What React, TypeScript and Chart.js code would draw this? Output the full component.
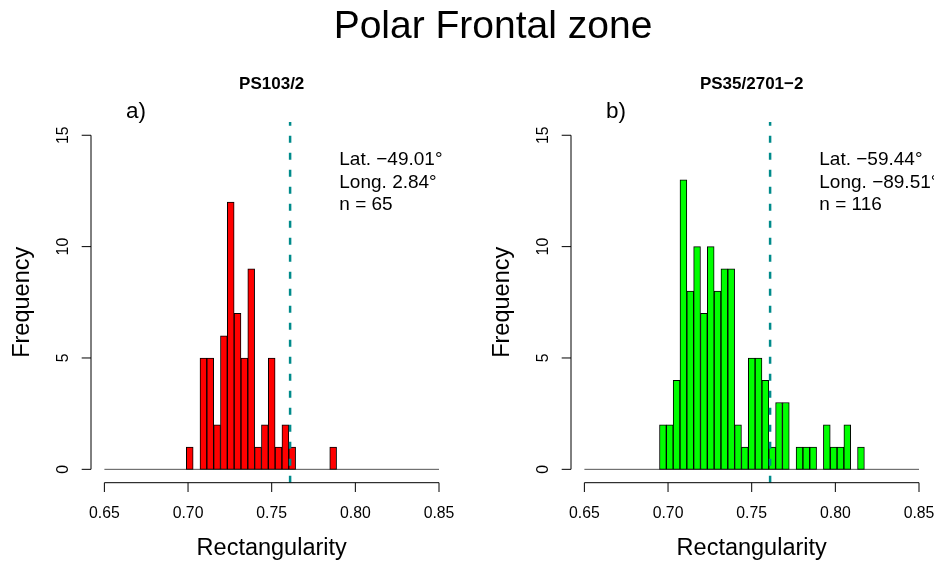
import React, { useEffect, useRef } from "react";
import { Chart, registerables } from "chart.js";

Chart.register(...registerables);

// ---- data ----
const BIN_START = 0.65;
const BIN_END = 0.85;
const BIN_COUNT = 49;
const X_TICKS = [0.65, 0.7, 0.75, 0.8, 0.85];
const X_TICK_LABELS = ["0.65", "0.70", "0.75", "0.80", "0.85"];
const Y_TICKS = [0, 5, 10, 15];
const Y_TICK_LABELS = ["0", "5", "10", "15"];
const REF_LINE = 0.761;

const COUNTS_A = [
  0, 0, 0, 0, 0, 0, 0, 0, 0, 0, 0, 0,
  1, 0, 5, 5, 2, 6, 12, 7, 5, 9, 1, 2, 5, 1, 2, 1,
  0, 0, 0, 0, 0, 1,
  0, 0, 0, 0, 0, 0, 0, 0, 0, 0, 0, 0, 0, 0, 0,
];
const COUNTS_B = [
  0, 0, 0, 0, 0, 0, 0, 0, 0, 0, 0,
  2, 2, 4, 13, 8, 10, 7, 10, 8, 9, 9, 2, 1, 5, 5, 4, 1, 3, 3, 0, 1, 1, 1, 0, 2, 1, 1, 2, 0, 1,
  0, 0, 0, 0, 0, 0, 0, 0,
];

const MAIN_TITLE = "Polar Frontal zone";
const TITLE_A = "PS103/2";
const TITLE_B = "PS35/2701\u22122";
const LETTER_A = "a)";
const LETTER_B = "b)";
const INFO_A = ["Lat. \u221249.01\u00b0", "Long. 2.84\u00b0", "n = 65"];
const INFO_B = ["Lat. \u221259.44\u00b0", "Long. \u221289.51\u00b0", "n = 116"];
const X_TITLE = "Rectangularity";
const Y_TITLE = "Frequency";

const FONT = '"Liberation Sans", Arial, Helvetica, sans-serif';

type PanelProps = {
  counts: number[];
  color: string;
  title: string;
  letter: string;
  info: string[];
};

function Panel({ counts, color, title, letter, info }: PanelProps) {
  const ref = useRef<HTMLCanvasElement | null>(null);

  useEffect(() => {
    if (!ref.current) return;
    const binW = (BIN_END - BIN_START) / BIN_COUNT;
    const centers = counts.map((_, i) => BIN_START + (i + 0.5) * binW);

    const axesPlugin = {
      id: "rAxes",
      afterDraw(chart: any) {
        const { ctx, chartArea } = chart;
        const x = chart.scales.x;
        const y = chart.scales.y;
        ctx.save();
        ctx.strokeStyle = "#000";
        ctx.fillStyle = "#000";
        ctx.lineWidth = 1;

        // y axis
        const ax = chartArea.left;
        ctx.beginPath();
        ctx.moveTo(ax, y.getPixelForValue(Y_TICKS[0]));
        ctx.lineTo(ax, y.getPixelForValue(Y_TICKS[Y_TICKS.length - 1]));
        Y_TICKS.forEach((v) => {
          const py = y.getPixelForValue(v);
          ctx.moveTo(ax, py);
          ctx.lineTo(ax - 9.3, py);
        });
        ctx.stroke();
        ctx.font = `15.8px ${FONT}`;
        ctx.textAlign = "center";
        ctx.textBaseline = "alphabetic";
        Y_TICKS.forEach((v, i) => {
          const py = y.getPixelForValue(v);
          ctx.save();
          ctx.translate(68.3, py);
          ctx.rotate(-Math.PI / 2);
          ctx.fillText(Y_TICK_LABELS[i], 0, 0);
          ctx.restore();
        });

        // x axis
        const ay = chartArea.bottom;
        ctx.beginPath();
        ctx.moveTo(x.getPixelForValue(X_TICKS[0]), ay);
        ctx.lineTo(x.getPixelForValue(X_TICKS[X_TICKS.length - 1]), ay);
        X_TICKS.forEach((v) => {
          const px = x.getPixelForValue(v);
          ctx.moveTo(px, ay);
          ctx.lineTo(px, ay + 9.3);
        });
        ctx.stroke();
        X_TICKS.forEach((v, i) => {
          ctx.fillText(X_TICK_LABELS[i], x.getPixelForValue(v), 518.3);
        });

        const cx = (x.getPixelForValue(BIN_START) + x.getPixelForValue(BIN_END)) / 2;
        const cy = (y.getPixelForValue(Y_TICKS[0]) + y.getPixelForValue(Y_TICKS[Y_TICKS.length - 1])) / 2;

        // axis titles
        ctx.font = `23.5px ${FONT}`;
        ctx.fillText(X_TITLE, cx, 555);
        ctx.save();
        ctx.translate(28.5, cy);
        ctx.rotate(-Math.PI / 2);
        ctx.fillText(Y_TITLE, 0, 0);
        ctx.restore();

        // panel title
        ctx.font = `bold 17px ${FONT}`;
        ctx.fillText(title, cx, 89.3);

        // letter
        ctx.font = `22.5px ${FONT}`;
        ctx.fillText(letter, 136, 118);

        // info
        ctx.font = `19px ${FONT}`;
        ctx.textAlign = "left";
        const bl = [165, 187.5, 210];
        info.forEach((t, i) => ctx.fillText(t, 339.3, bl[i]));
        ctx.restore();
      },
    };

    const chart = new Chart(ref.current, {
      type: "bar",
      data: {
        datasets: [
          {
            type: "line",
            data: [
              { x: REF_LINE, y: -0.6 },
              { x: REF_LINE, y: 15.6 },
            ],
            borderColor: "#008B8B",
            borderWidth: 2.5,
            borderDash: [7, 10],
            pointRadius: 0,
            order: 0,
          } as any,
          {
            type: "bar",
            data: centers.map((cxv, i) => ({ x: cxv, y: counts[i] })),
            backgroundColor: color,
            borderColor: "#000",
            borderWidth: 1,
            borderSkipped: false,
            barPercentage: 1,
            categoryPercentage: 1,
            order: 1,
          } as any,
          {
            type: "line",
            data: [
              { x: BIN_START, y: 0 },
              { x: BIN_END, y: 0 },
            ],
            borderColor: "#555",
            borderWidth: 1,
            pointRadius: 0,
            order: 2,
          } as any,
        ],
      },
      options: {
        responsive: false,
        animation: false,
        devicePixelRatio: 1,
        layout: { padding: { top: 121.9, right: 27.6, left: 0, bottom: 0 } },
        plugins: {
          legend: { display: false },
          tooltip: { enabled: false },
          title: { display: false },
        },
        scales: {
          x: {
            type: "linear",
            min: 0.642,
            max: 0.858,
            offset: false,
            grid: { display: false, offset: false },
            border: { display: false },
            ticks: { display: false },
            afterBuildTicks: (s: any) => {
              s.ticks = X_TICKS.map((v) => ({ value: v }));
            },
            afterFit: (s: any) => {
              s.height = 81.3;
            },
          },
          y: {
            type: "linear",
            min: -0.6,
            max: 15.6,
            grid: { display: false },
            border: { display: false },
            ticks: { display: false },
            afterBuildTicks: (s: any) => {
              s.ticks = Y_TICKS.map((v) => ({ value: v }));
            },
            afterFit: (s: any) => {
              s.width = 91;
            },
          },
        },
      } as any,
      plugins: [axesPlugin],
    });
    return () => chart.destroy();
  }, [counts, color, title, letter, info]);

  return <canvas ref={ref} width={480} height={564} style={{ display: "block", width: 480, height: 564 }} />;
}

export default function App() {
  return (
    <div
      style={{
        position: "absolute",
        left: 0,
        top: 0,
        width: 934,
        height: 564,
        overflow: "hidden",
        background: "#fff",
      }}
    >
      <div style={{ position: "absolute", left: 0, top: 0 }}>
        <Panel counts={COUNTS_A} color="#FF0000" title={TITLE_A} letter={LETTER_A} info={INFO_A} />
      </div>
      <div style={{ position: "absolute", left: 480, top: 0 }}>
        <Panel counts={COUNTS_B} color="#00FF00" title={TITLE_B} letter={LETTER_B} info={INFO_B} />
      </div>
      <div
        style={{
          position: "absolute",
          left: 493,
          top: 5.3,
          transform: "translateX(-50%)",
          whiteSpace: "nowrap",
          font: `39px ${FONT}`,
          lineHeight: "39px",
          color: "#000",
        }}
      >
        {MAIN_TITLE}
      </div>
    </div>
  );
}
